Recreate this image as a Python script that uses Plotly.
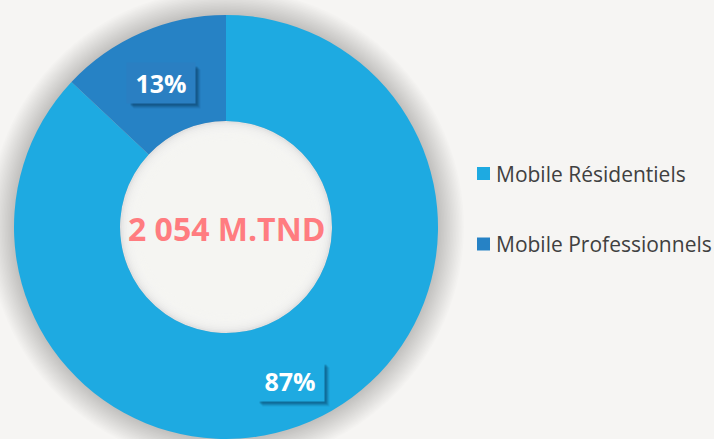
import plotly.graph_objects as go

labels = ["Mobile Résidentiels", "Mobile Professionnels"]
values = [87, 13]
colors = ["#1EAAE1", "#2682C5"]
box_colors = ["#1EAAE1", "#2A7FC2"]
pct_text = ["87%", "13%"]
center_text = "2 054 M.TND"

W, H = 714, 439
CX, CY, R = 226, 227, 212
BG = "#F6F5F3"

def px(x):
    return x / W

def py(y):
    return 1 - y / H

fig = go.Figure()
fig.add_trace(go.Pie(
    labels=labels, values=values, hole=0.5, sort=False, direction="clockwise",
    marker=dict(colors=colors, line=dict(width=0)), textinfo="none",
    hoverinfo="label+percent", showlegend=False,
    domain=dict(x=[px(CX - R), px(CX + R)], y=[py(CY + R), py(CY - R)]),
))

shapes = []
# soft outer shadow
for i in range(18):
    r = R + 26 - i * 1.5
    shapes.append(dict(type="circle", xref="paper", yref="paper", layer="below",
                       x0=px(CX - r), x1=px(CX + r), y0=py(CY + r), y1=py(CY - r),
                       fillcolor="rgba(0,0,0,0.010)", line=dict(width=0)))
# inner hole shading
hr = R * 0.5
shapes.append(dict(type="circle", xref="paper", yref="paper", layer="below",
                   x0=px(CX - hr), x1=px(CX + hr), y0=py(CY + hr), y1=py(CY - hr),
                   fillcolor="#E2E2E2", line=dict(width=0)))
for i in range(12):
    r = hr - 2 - i * 1.6
    shapes.append(dict(type="circle", xref="paper", yref="paper", layer="below",
                       x0=px(CX - r), x1=px(CX + r), y0=py(CY + r), y1=py(CY - r),
                       fillcolor="rgba(247,246,244,0.35)", line=dict(width=0)))

annotations = []
label_pos = [(290, 381), (161, 83)]
for (x, y), txt, col in zip(label_pos, pct_text, box_colors):
    for k, a in [(7, 0.08), (6, 0.12), (5, 0.16), (4, 0.2)]:
        annotations.append(dict(x=px(x), y=py(y), xref="paper", yref="paper", text=" ",
                                xanchor="center", yanchor="middle",
                                showarrow=False, width=64, height=36, xshift=k - 1, yshift=-(k - 1),
                                bgcolor=f"rgba(0,40,70,{a})", font=dict(size=2)))
    annotations.append(dict(x=px(x), y=py(y), xref="paper", yref="paper",
                            xanchor="center", yanchor="middle",
                            text=f"<b>{txt}</b>", showarrow=False, width=66, height=38,
                            bgcolor=col, font=dict(family="Open Sans", size=25, color="white")))

annotations.append(dict(x=px(CX), y=py(CY + 1), xref="paper", yref="paper",
                        xanchor="center", yanchor="middle",
                        text=f"<b>{center_text}</b>", showarrow=False,
                        font=dict(family="Open Sans", size=32, color="#FF7C80")))

# legend
leg_y = [173.5, 244]
for lab, col, ly in zip(labels, colors, leg_y):
    shapes.append(dict(type="rect", xref="paper", yref="paper",
                       x0=px(477), x1=px(490), y0=py(ly + 6.5), y1=py(ly - 6.5),
                       fillcolor=col, line=dict(width=0)))
    annotations.append(dict(x=px(494), y=py(ly), xref="paper", yref="paper",
                            xanchor="left", yanchor="middle",
                            text=lab, showarrow=False,
                            font=dict(family="Open Sans", size=21, color="#404040")))

fig.update_layout(width=W, height=H, margin=dict(l=0, r=0, t=0, b=0),
                  paper_bgcolor=BG, plot_bgcolor=BG, shapes=shapes, annotations=annotations)
fig.write_html("out.html", config={"displayModeBar": False},
               post_script="document.body.style.margin='0';document.body.style.background='%s';" % BG)
